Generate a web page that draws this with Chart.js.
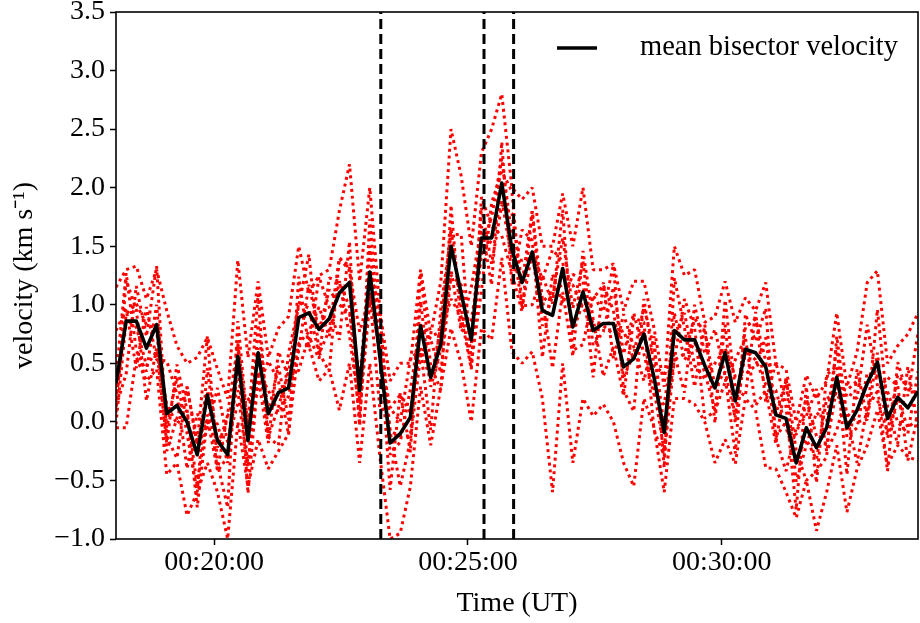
<!DOCTYPE html>
<html>
<head>
<meta charset="utf-8">
<script src="https://cdn.jsdelivr.net/npm/chart.js@4.4.1/dist/chart.umd.min.js"></script>
<style>
body { margin: 0; background: #fff; }
</style>
</head>
<body>
<canvas id="bisectorChart" width="920" height="623"></canvas>
<script>
"use strict";
// first sample in seconds after 00:00:00 UT, 12 s cadence
var startTime = 1084;
var cadence = 12;

var meanVelocity = [0.33, 0.86, 0.86, 0.63, 0.83, 0.07, 0.14, 0.00, -0.28, 0.23,
    -0.16, -0.28, 0.56, -0.16, 0.59, 0.07, 0.25, 0.29, 0.89, 0.93,
    0.79, 0.88, 1.10, 1.19, 0.27, 1.28, 0.55, -0.18, -0.10, 0.04,
    0.82, 0.38, 0.67, 1.50, 1.10, 0.70, 1.57, 1.57, 2.04, 1.47,
    1.19, 1.45, 0.95, 0.91, 1.31, 0.81, 1.11, 0.78, 0.84, 0.84,
    0.47, 0.54, 0.75, 0.38, -0.09, 0.78, 0.70, 0.70, 0.48, 0.29,
    0.59, 0.18, 0.62, 0.59, 0.47, 0.06, 0.03, -0.35, -0.05, -0.22,
    -0.05, 0.38, -0.05, 0.10, 0.33, 0.51, 0.03, 0.21, 0.12, 0.26];

var bisector1 = [1.15, 1.30, 1.33, 1.05, 1.30, 0.95, 0.65, 0.50, 0.55, 0.72,
    0.45, 0.20, 1.38, 0.55, 1.20, 0.55, 0.80, 0.90, 1.50, 1.10,
    1.25, 1.30, 1.80, 2.20, 1.20, 2.00, 0.95, 0.35, 0.50, 0.50,
    1.30, 0.75, 1.20, 2.50, 2.10, 1.50, 2.30, 2.50, 2.80, 2.00,
    1.90, 2.00, 1.50, 1.50, 1.95, 1.50, 2.00, 1.30, 1.30, 1.35,
    0.95, 1.20, 1.20, 0.80, 0.30, 1.50, 1.25, 1.30, 0.85, 0.90,
    1.20, 0.85, 1.06, 0.95, 1.19, 0.50, 0.45, 0.00, 0.40, 0.20,
    0.35, 0.93, 0.30, 0.60, 1.19, 1.29, 0.50, 0.65, 0.75, 0.93];

var bisector2 = [0.38, 1.27, 0.61, 0.43, 1.00, -0.05, 0.38, -0.10, -0.60, 0.46,
    -0.22, 0.05, 0.27, -0.42, 0.83, 0.07, 0.48, 0.02, 0.62, 1.17,
    0.78, 1.13, 1.00, 0.93, 0.37, 1.30, 0.95, -0.28, -0.17, 0.28,
    0.83, 0.70, 0.42, 1.25, 1.17, 0.67, 1.83, 1.35, 1.85, 1.78,
    1.18, 1.80, 0.82, 1.07, 1.57, 0.97, 1.37, 0.65, 0.77, 1.15,
    0.58, 0.93, 0.58, 0.23, 0.15, 0.73, 0.93, 0.48, 0.37, 0.50,
    0.63, 0.39, 0.41, 0.48, 0.72, 0.07, 0.35, -0.51, -0.20, 0.08,
    0.00, 0.64, -0.13, -0.05, 0.42, 0.39, 0.26, 0.00, -0.10, 0.43];

var bisector3 = [0.18, 0.92, 1.01, 0.83, 0.80, -0.25, 0.03, 0.30, -0.20, 0.26,
    -0.42, -0.30, 0.67, -0.02, 0.63, -0.13, 0.13, 0.42, 1.02, 0.97,
    0.58, 0.78, 1.40, 1.33, 0.17, 1.10, 0.60, 0.12, 0.23, 0.08,
    0.63, 0.35, 0.82, 1.65, 0.97, 0.47, 1.48, 1.75, 2.25, 1.58,
    0.98, 1.45, 1.22, 1.47, 1.37, 0.77, 1.02, 1.05, 1.17, 0.95,
    0.38, 0.58, 0.98, 0.63, -0.05, 0.53, 0.58, 0.88, 0.77, 0.30,
    0.43, 0.04, 0.81, 0.88, 0.52, -0.13, 0.00, -0.11, 0.20, -0.12,
    -0.20, 0.29, 0.27, 0.35, 0.22, 0.19, -0.09, 0.40, 0.30, 0.23];

var bisector4 = [-0.02, 0.87, 0.81, 0.48, 0.60, 0.15, -0.02, 0.10, -0.55, 0.06,
    -0.02, -0.35, 0.47, -0.37, 0.43, 0.27, 0.08, 0.22, 0.67, 0.77,
    0.98, 0.73, 1.20, 0.98, -0.03, 1.50, 0.55, -0.08, -0.12, -0.12,
    1.03, 0.30, 0.62, 1.30, 0.77, 0.87, 1.43, 1.55, 1.90, 1.38,
    1.38, 1.40, 1.02, 1.12, 1.17, 1.17, 0.97, 0.85, 0.82, 0.75,
    0.78, 0.53, 0.78, 0.28, -0.25, 0.93, 0.53, 0.68, 0.42, 0.10,
    0.83, -0.01, 0.61, 0.53, 0.32, 0.27, -0.05, -0.31, -0.15, -0.32,
    0.20, 0.24, 0.07, 0.00, 0.02, 0.59, -0.14, 0.20, -0.05, 0.03];

var bisector5 = [-0.05, -0.05, 0.55, 0.35, 0.45, -0.45, -0.35, -0.80, -0.60, -0.35,
    -0.60, -1.00, 0.00, -0.55, -0.15, -0.40, -0.25, -0.10, 0.65, 0.65,
    0.35, 0.45, 0.10, 0.50, -0.35, 0.50, -0.30, -1.00, -0.95, -0.55,
    0.30, -0.20, 0.30, 0.80, 0.50, 0.00, 0.80, 0.70, 1.40, 0.60,
    0.50, 0.60, 0.20, -0.60, 0.50, -0.35, 0.20, 0.05, 0.15, 0.00,
    -0.35, -0.55, 0.20, -0.05, -0.60, 0.20, 0.20, 0.15, 0.00, -0.35,
    -0.15, -0.36, 0.20, 0.10, -0.39, -0.40, -0.60, -0.82, -0.50, -0.93,
    -0.60, -0.20, -0.77, -0.40, -0.20, 0.10, -0.37, -0.20, -0.30, -0.33];

var bisector6 = [0.78, 0.96, 0.46, 0.98, 0.53, 0.52, 0.24, -0.40, 0.07, -0.07,
    0.29, -0.18, 0.16, 0.19, 0.29, 0.52, 0.35, -0.11, 1.24, 0.63,
    1.24, 0.98, 0.70, 1.54, -0.03, 1.73, 0.65, -0.58, 0.25, -0.26,
    1.27, 0.48, 0.27, 1.85, 0.80, 1.15, 1.67, 1.17, 2.39, 1.17,
    1.64, 1.55, 0.55, 1.26, 1.01, 1.26, 1.21, 0.38, 1.19, 0.54,
    0.92, 0.64, 0.35, 0.73, -0.39, 1.23, 0.80, 0.30, 0.83, -0.01,
    1.04, 0.28, 0.22, 0.94, 0.17, 0.51, 0.13, -0.75, 0.30, -0.52,
    0.40, 0.48, -0.45, 0.45, 0.03, 0.96, 0.13, -0.19, 0.47, -0.04];

var bisector7 = [0.13, 0.41, 1.16, 0.73, 1.33, -0.13, -0.31, 0.30, -0.18, 0.73,
    -0.36, -0.73, 0.86, -0.06, 1.09, -0.13, -0.20, 0.59, 0.99, 1.43,
    0.59, 0.43, 1.40, 1.29, 0.77, 1.08, 0.10, 0.12, 0.00, 0.54,
    0.62, -0.07, 0.97, 1.60, 1.60, 0.50, 1.12, 1.87, 2.14, 1.97,
    0.99, 1.00, 1.25, 1.01, 1.81, 0.61, 0.66, 1.08, 0.94, 1.34,
    0.27, 0.09, 1.05, 0.48, 0.41, 0.58, 0.25, 1.00, 0.58, 0.79,
    0.39, -0.27, 0.92, 0.69, 0.97, -0.14, -0.42, -0.05, 0.05, 0.28,
    -0.25, -0.07, 0.25, 0.20, 0.83, 0.31, -0.42, 0.51, 0.22, 0.76];

var bisector8 = [0.08, 1.21, 0.96, 0.18, 0.63, -0.18, 0.49, 0.10, -0.73, 0.03,
    -0.41, 0.07, 0.66, -0.61, 0.39, -0.18, 0.60, 0.39, 0.44, 0.73,
    0.54, 1.23, 1.20, 0.74, 0.07, 1.03, 0.90, -0.08, -0.55, -0.16,
    0.57, 0.73, 0.77, 1.05, 0.90, 0.45, 1.92, 1.67, 1.59, 1.27,
    0.94, 1.80, 1.05, 0.46, 1.11, 0.56, 1.46, 0.88, 0.39, 0.64,
    0.22, 0.89, 0.85, -0.07, -0.29, 0.53, 1.05, 0.80, 0.03, 0.09,
    0.34, 0.53, 0.72, 0.14, 0.27, -0.19, 0.38, -0.25, -0.50, -0.42,
    -0.30, 0.73, 0.05, -0.35, 0.13, 0.26, 0.38, 0.31, -0.33, 0.06];

// dashed markers (s after 00:00:00 UT)
var eventTimes = [1397, 1519, 1554];
var timeTicks = [1200, 1500, 1800];
var yMin = -1.0, yMax = 3.5;

function hms(s) {
    var h = Math.floor(s / 3600), m = Math.floor((s % 3600) / 60), sec = Math.round(s % 60);
    return [h, m, sec].map(function (n) { return (n < 10 ? "0" : "") + n; }).join(":");
}

function toPoints(values) {
    return values.map(function (v, i) { return {x: startTime + i * cadence, y: v}; });
}

var fontFamily = "'Liberation Serif', 'Times New Roman', serif";

var datasets = [{
    label: "mean bisector velocity",
    data: toPoints(meanVelocity),
    borderColor: "#000",
    borderWidth: 3.6,
    borderJoinStyle: "round",
    pointRadius: 0,
    tension: 0
}];
eventTimes.forEach(function (t) {
    datasets.push({
        label: "event",
        data: [{x: t, y: yMin}, {x: t, y: yMax}],
        borderColor: "#000",
        borderWidth: 3,
        borderDash: [10, 5],
        pointRadius: 0
    });
});
[bisector1, bisector2, bisector3, bisector4, bisector5, bisector6, bisector7, bisector8].forEach(function (b, i) {
    datasets.push({
        label: "bisector " + (i + 1),
        data: toPoints(b),
        borderColor: "#ff0000",
        borderWidth: 3,
        borderDash: [3, 3.8],
        borderCapStyle: "butt",
        borderJoinStyle: "bevel",
        pointRadius: 0,
        tension: 0
    });
});

var framePlugin = {
    id: "frame",
    afterDraw: function (chart) {
        var ctx = chart.ctx, a = chart.chartArea;
        ctx.save();
        ctx.strokeStyle = "#000";
        ctx.lineWidth = 1.6;
        ctx.strokeRect(a.left, a.top, a.right - a.left, a.bottom - a.top);
        // legend
        var ly = a.top + 36;
        ctx.lineWidth = 3.6;
        ctx.beginPath();
        ctx.moveTo(a.right - 361, ly);
        ctx.lineTo(a.right - 321, ly);
        ctx.stroke();
        ctx.fillStyle = "#000";
        ctx.font = "28.5px " + fontFamily;
        ctx.textBaseline = "middle";
        ctx.textAlign = "left";
        ctx.fillText("mean bisector velocity", a.right - 278, ly);
        ctx.restore();
    }
};

new Chart(document.getElementById("bisectorChart"), {
    type: "line",
    data: {datasets: datasets},
    plugins: [framePlugin],
    options: {
        responsive: false,
        animation: false,
        layout: {padding: {top: 12, right: 2, left: 0, bottom: 0}},
        plugins: {legend: {display: false}, tooltip: {enabled: false}},
        scales: {
            x: {
                type: "linear",
                min: startTime,
                max: startTime + (meanVelocity.length - 1) * cadence,
                afterBuildTicks: function (scale) {
                    scale.ticks = timeTicks.map(function (v) { return {value: v}; });
                },
                afterFit: function (scale) {
                    scale.height = 84;
                    scale.paddingLeft = 0;
                    scale.paddingRight = 0;
                },
                border: {display: false},
                grid: {drawOnChartArea: false, tickLength: 6, tickWidth: 1.5, tickColor: "#000"},
                ticks: {
                    color: "#000", padding: 1, maxRotation: 0,
                    font: {family: fontFamily, size: 28},
                    callback: function (v) { return hms(v); }
                },
                title: {
                    display: true, text: "Time (UT)", color: "#000",
                    font: {family: fontFamily, size: 28},
                    padding: {top: 0, bottom: 3}
                }
            },
            y: {
                min: yMin,
                max: yMax,
                afterFit: function (scale) {
                    scale.width = 116;
                    scale.paddingTop = 0;
                    scale.paddingBottom = 0;
                },
                border: {display: false},
                grid: {drawOnChartArea: false, tickLength: 6, tickWidth: 1.5, tickColor: "#000"},
                ticks: {
                    stepSize: 0.5, color: "#000", padding: 5,
                    font: {family: fontFamily, size: 28},
                    callback: function (v) { return v.toFixed(1).replace("-", "\u2212"); }
                },
                title: {
                    display: true, text: "velocity (km s\u207B\u00B9)", color: "#000",
                    font: {family: fontFamily, size: 28},
                    padding: {top: 8, bottom: 0}
                }
            }
        }
    }
});
</script>
</body>
</html>
